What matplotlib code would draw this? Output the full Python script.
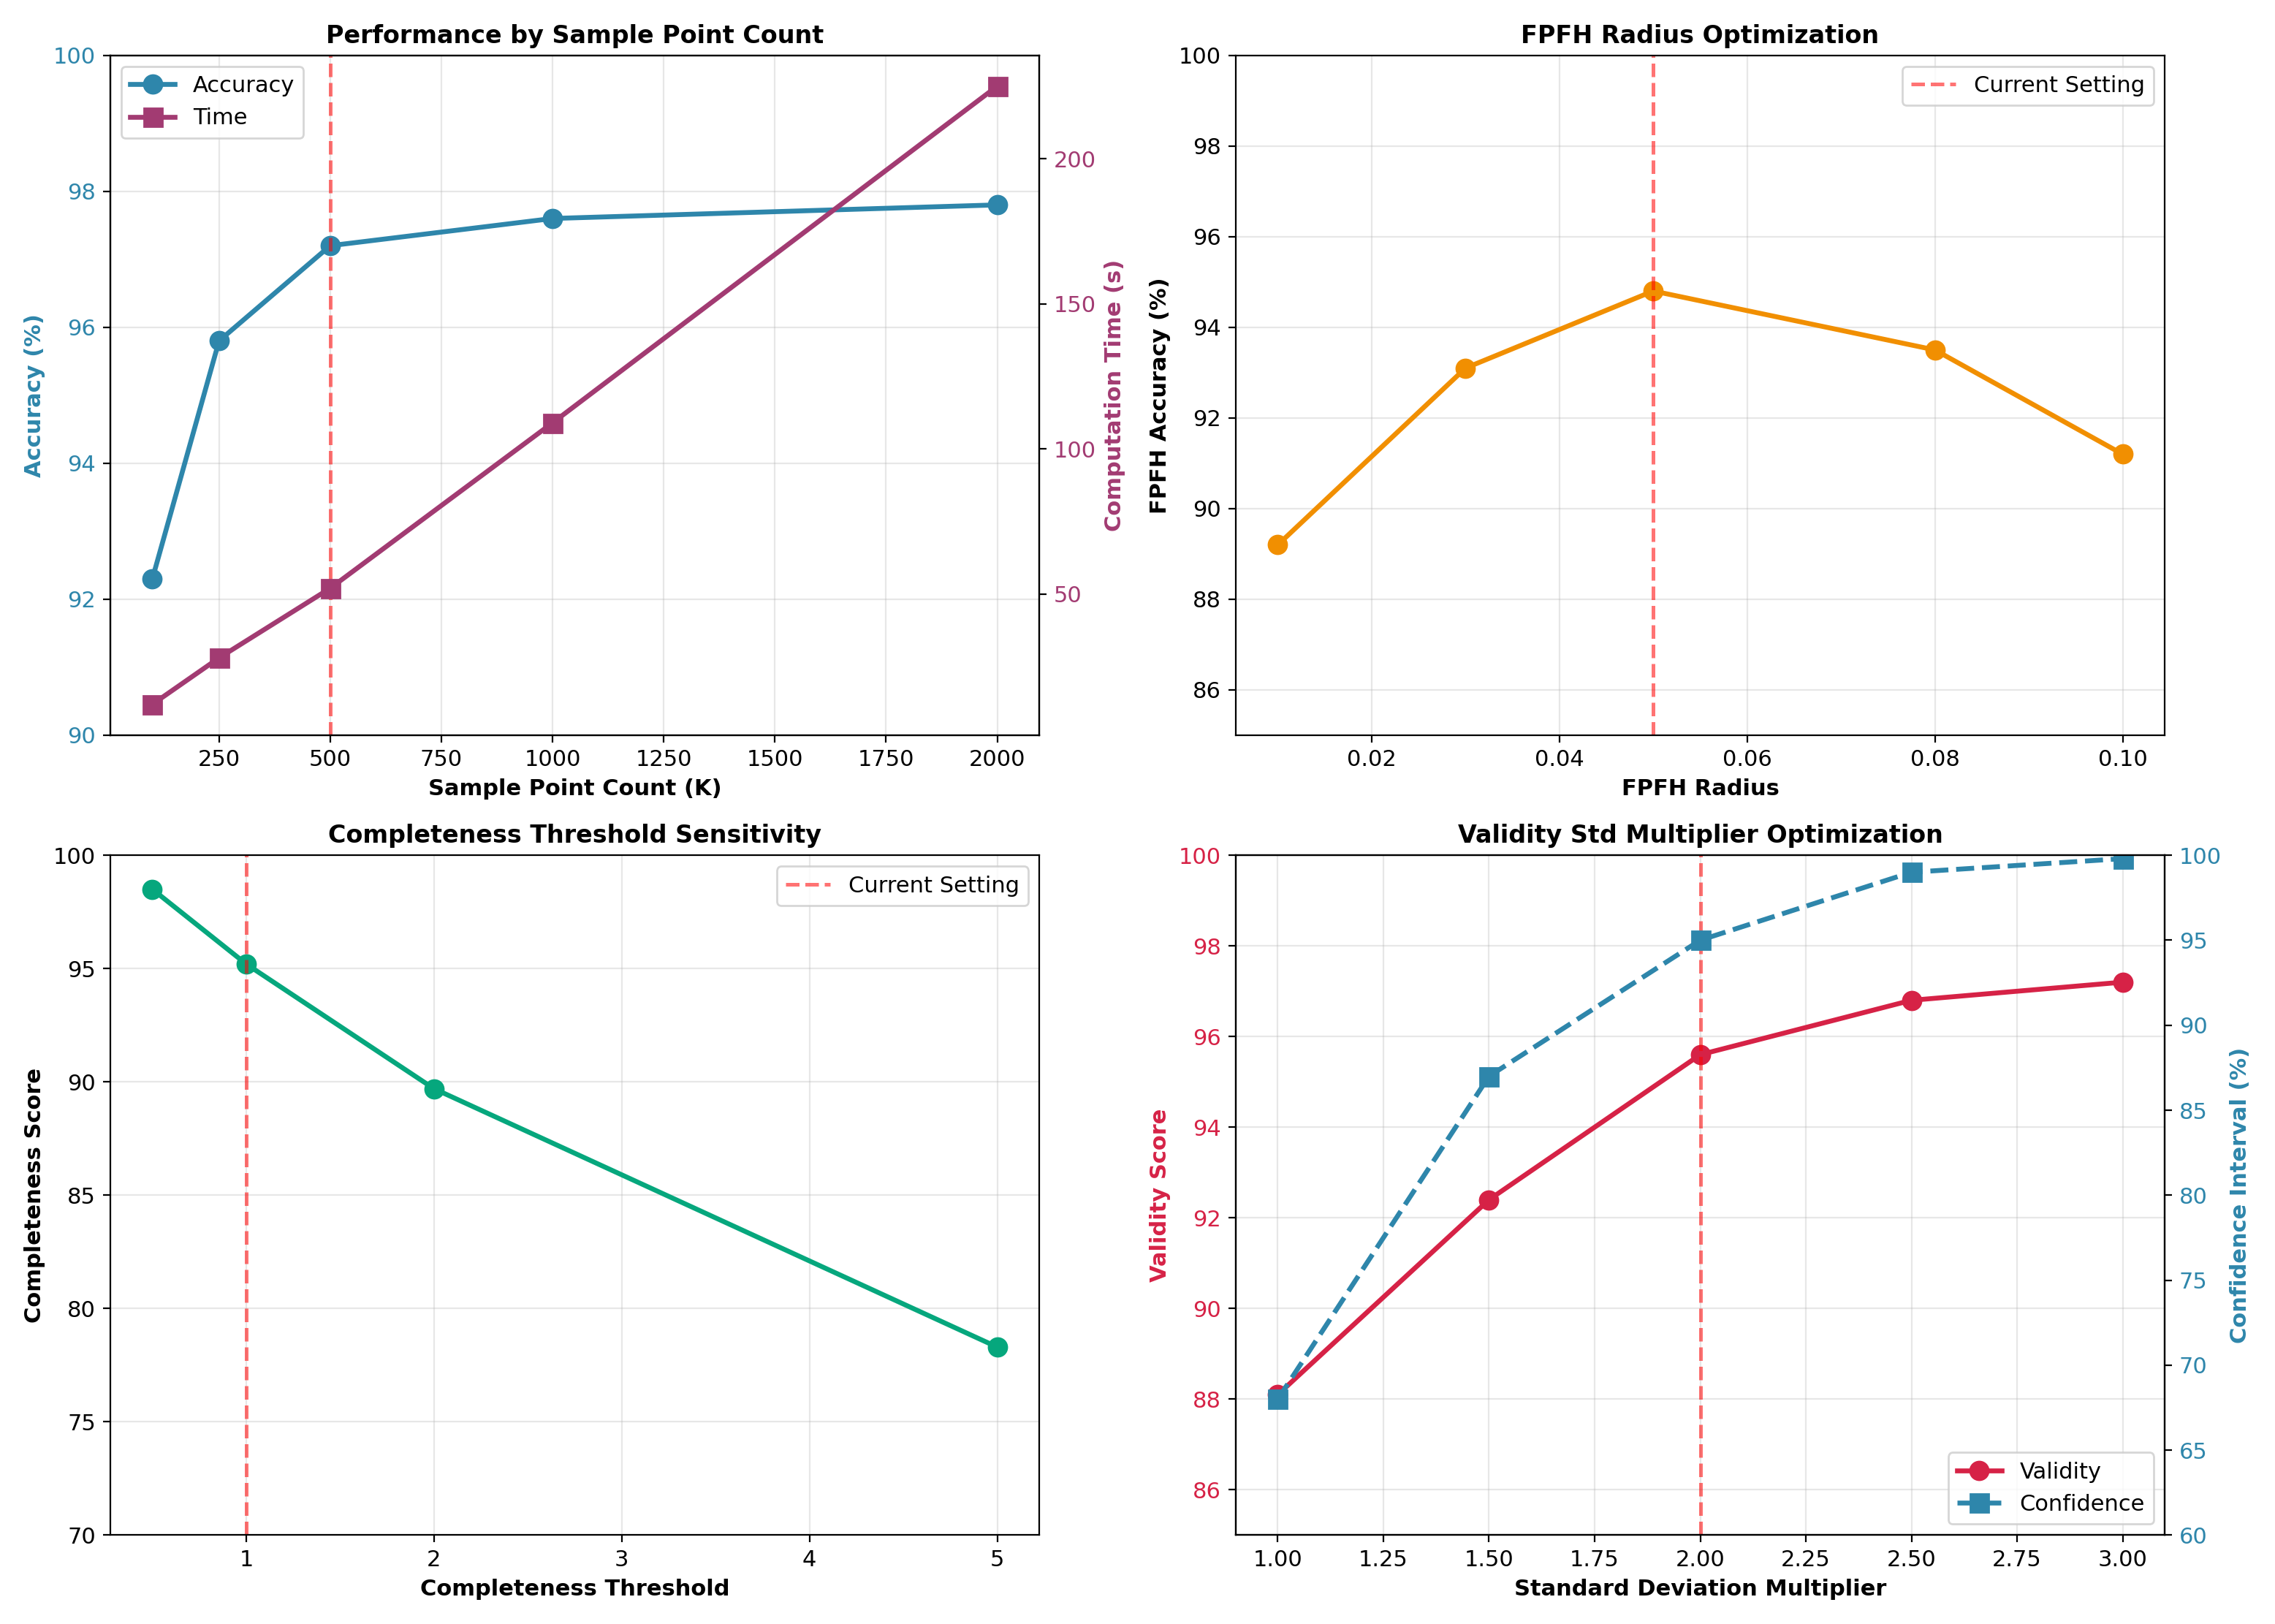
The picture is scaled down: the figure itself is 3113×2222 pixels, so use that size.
import matplotlib
matplotlib.use("Agg")
import matplotlib.pyplot as plt

plt.rcParams['font.size'] = 11

# Panel 1 data
sample_counts = [100, 250, 500, 1000, 2000]
sample_accuracy = [92.3, 95.8, 97.2, 97.6, 97.8]
sample_time = [12, 28, 52, 109, 225]
sample_current = 500

# Panel 2 data
fpfh_radius = [0.01, 0.03, 0.05, 0.08, 0.10]
fpfh_accuracy = [89.2, 93.1, 94.8, 93.5, 91.2]
fpfh_current = 0.05

# Panel 3 data
comp_threshold = [0.5, 1, 2, 5]
comp_score = [98.5, 95.2, 89.7, 78.3]
comp_current = 1

# Panel 4 data
std_mult = [1.0, 1.5, 2.0, 2.5, 3.0]
validity_score = [88.1, 92.4, 95.6, 96.8, 97.2]
confidence_interval = [68, 87, 95, 99, 99.8]
std_current = 2.0

C_BLUE = '#2E86AB'
C_PURPLE = '#A23B72'
C_ORANGE = '#F18F01'
C_GREEN = '#06A77D'
C_RED = '#D62246'
VLINE = dict(color='red', linestyle='--', alpha=0.55, linewidth=1.8)

fig, axes = plt.subplots(2, 2, figsize=(15.565, 11.11), dpi=200)
LW = 2.4
MS = 9

# Panel 1
ax = axes[0, 0]
l1, = ax.plot(sample_counts, sample_accuracy, 'o-', color=C_BLUE, linewidth=LW, markersize=MS, label='Accuracy')
ax.set_ylim(90, 100)
ax.set_xlabel('Sample Point Count (K)', fontweight='bold', fontsize=11)
ax.set_ylabel('Accuracy (%)', fontweight='bold', fontsize=11, color=C_BLUE)
ax.tick_params(axis='y', labelcolor=C_BLUE)
ax.grid(True, alpha=0.3)
ax.axvline(sample_current, **VLINE)
ax2 = ax.twinx()
l2, = ax2.plot(sample_counts, sample_time, 's-', color=C_PURPLE, linewidth=LW, markersize=MS, label='Time')
ax2.set_ylabel('Computation Time (s)', fontweight='bold', fontsize=11, color=C_PURPLE)
ax2.tick_params(axis='y', labelcolor=C_PURPLE)
ax.set_title('Performance by Sample Point Count', fontweight='bold', fontsize=12)
ax.legend([l1, l2], ['Accuracy', 'Time'], loc='upper left', fontsize=11)

# Panel 2
ax = axes[0, 1]
ax.plot(fpfh_radius, fpfh_accuracy, 'o-', color=C_ORANGE, linewidth=LW, markersize=MS)
ax.axvline(fpfh_current, label='Current Setting', **VLINE)
ax.set_ylim(85, 100)
ax.set_xlabel('FPFH Radius', fontweight='bold', fontsize=11)
ax.set_ylabel('FPFH Accuracy (%)', fontweight='bold', fontsize=11)
ax.set_title('FPFH Radius Optimization', fontweight='bold', fontsize=12)
ax.grid(True, alpha=0.3)
ax.legend(loc='upper right', fontsize=11)

# Panel 3
ax = axes[1, 0]
ax.plot(comp_threshold, comp_score, 'o-', color=C_GREEN, linewidth=LW, markersize=MS)
ax.axvline(comp_current, label='Current Setting', **VLINE)
ax.set_ylim(70, 100)
ax.set_xlabel('Completeness Threshold', fontweight='bold', fontsize=11)
ax.set_ylabel('Completeness Score', fontweight='bold', fontsize=11)
ax.set_title('Completeness Threshold Sensitivity', fontweight='bold', fontsize=12)
ax.grid(True, alpha=0.3)
ax.legend(loc='upper right', fontsize=11)

# Panel 4
ax = axes[1, 1]
l1, = ax.plot(std_mult, validity_score, 'o-', color=C_RED, linewidth=LW, markersize=MS, label='Validity')
ax.axvline(std_current, **VLINE)
ax.set_ylim(85, 100)
ax.set_xlabel('Standard Deviation Multiplier', fontweight='bold', fontsize=11)
ax.set_ylabel('Validity Score', fontweight='bold', fontsize=11, color=C_RED)
ax.tick_params(axis='y', labelcolor=C_RED)
ax.grid(True, alpha=0.3)
ax2 = ax.twinx()
l2, = ax2.plot(std_mult, confidence_interval, 's--', color=C_BLUE, linewidth=LW, markersize=MS, label='Confidence')
ax2.set_ylim(60, 100)
ax2.set_ylabel('Confidence Interval (%)', fontweight='bold', fontsize=11, color=C_BLUE)
ax2.tick_params(axis='y', labelcolor=C_BLUE)
ax.set_title('Validity Std Multiplier Optimization', fontweight='bold', fontsize=12)
ax2.legend([l1, l2], ['Validity', 'Confidence'], loc='lower right', fontsize=11)

fig.tight_layout()
fig.savefig('out.png', dpi=200)
